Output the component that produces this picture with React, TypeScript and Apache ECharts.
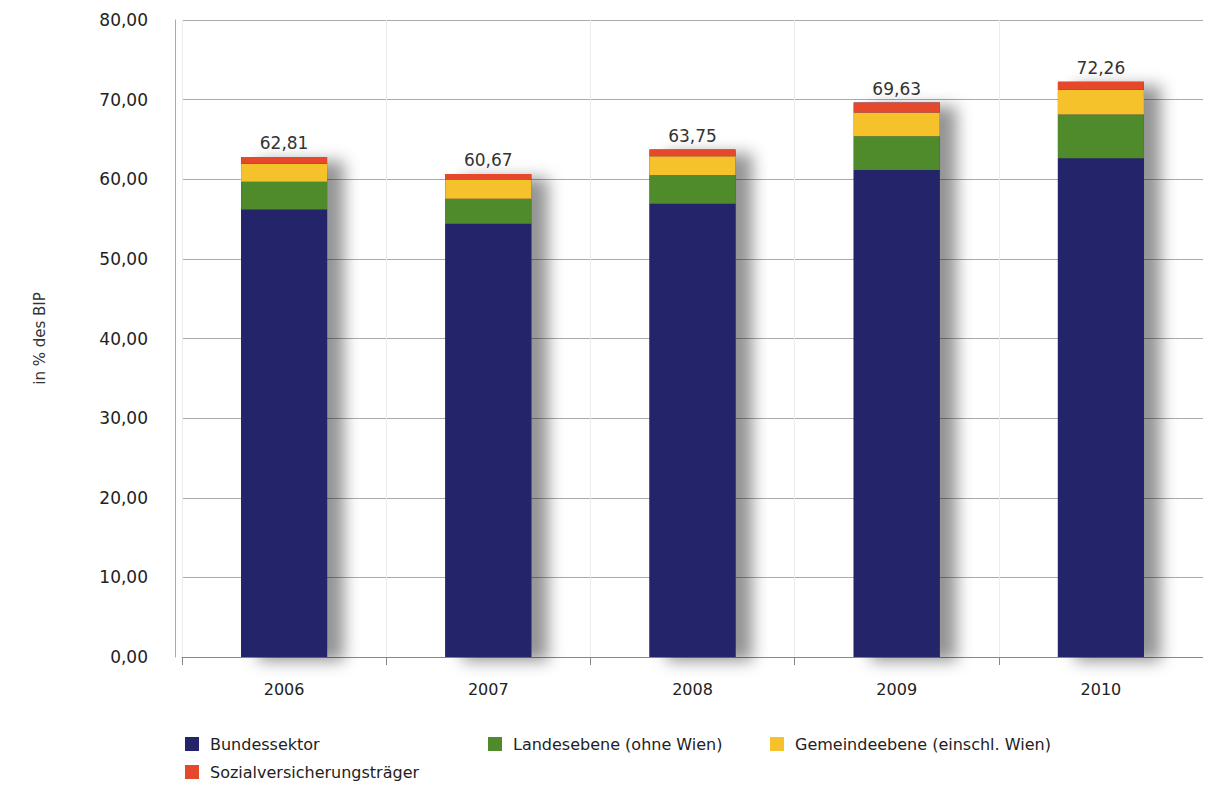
import React, { useEffect, useRef } from "react";
import * as echarts from "echarts";

const years = ["2006", "2007", "2008", "2009", "2010"];
const bundessektor = [56.2, 54.41, 56.92, 61.15, 62.65];
const landesebene = [3.5, 3.13, 3.6, 4.24, 5.48];
const gemeindeebene = [2.25, 2.38, 2.36, 3.0, 3.11];
const sozialversicherung = [0.86, 0.75, 0.87, 1.24, 1.02];
const totals = ["62,81", "60,67", "63,75", "69,63", "72,26"];

const names = [
  "Bundessektor",
  "Landesebene (ohne Wien)",
  "Gemeindeebene (einschl. Wien)",
  "Sozialversicherungsträger",
];
const colors = ["#24246a", "#4f8a2b", "#f6c22c", "#e5482b"];

const FONT = "DejaVu Sans";

export default function App() {
  const ref = useRef<HTMLDivElement>(null);
  useEffect(() => {
    if (!ref.current) return;
    const chart = echarts.init(ref.current, null, { renderer: "svg" });
    const parts = [bundessektor, landesebene, gemeindeebene, sozialversicherung];
    const sums = years.map((_, j) => parts.reduce((a, p) => a + p[j], 0));
    const shadowSeries = {
      name: "_shadow",
      type: "bar",
      data: sums,
      barWidth: 86,
      barGap: "-100%",
      z: 1,
      silent: true,
      itemStyle: {
        color: colors[0],
        shadowColor: "rgba(0,0,0,0.42)",
        shadowBlur: 16,
        shadowOffsetX: 17,
        shadowOffsetY: 4,
      },
      label: {
        show: true,
        position: "top",
        distance: 5,
        color: "#333",
        fontFamily: FONT,
        fontSize: 17,
        formatter: (p: any) => totals[p.dataIndex],
      },
    };
    const series = parts.map((d, i) => ({
      name: names[i],
      type: "bar",
      stack: "total",
      data: d,
      barWidth: 86,
      barGap: "-100%",
      z: 2,
      itemStyle: { color: colors[i] },
    }));
    const legendPos = [
      { left: 177, top: 728 },
      { left: 480, top: 728 },
      { left: 762, top: 728 },
      { left: 177, top: 756 },
    ];
    chart.setOption({
      animation: false,
      backgroundColor: "#fff",
      color: colors,
      grid: { left: 174, right: 0, top: 12, bottom: 128 },
      legend: names.map((n, i) => ({
        data: [n],
        left: legendPos[i].left,
        top: legendPos[i].top,
        padding: 0,
        itemWidth: 14,
        itemHeight: 14,
        icon: "rect",
        itemGap: 10,
        textStyle: { fontFamily: FONT, fontSize: 16, color: "#222", padding: [0, 0, 0, 6] },
      })),
      xAxis: {
        type: "category",
        data: years,
        axisLine: { lineStyle: { color: "#888" } },
        axisTick: { show: true, length: 8, lineStyle: { color: "#888" } },
        axisLabel: { fontFamily: FONT, fontSize: 16, color: "#222", margin: 24 },
        splitLine: { show: true, lineStyle: { color: "#ececec" } },
      },
      yAxis: {
        type: "value",
        min: 0,
        max: 80,
        interval: 10,
        name: "in % des BIP",
        nameLocation: "middle",
        nameGap: 128,
        nameRotate: 90,
        nameTextStyle: { fontFamily: FONT, fontSize: 15, color: "#333" },
        offset: 7,
        axisLine: { show: true, lineStyle: { color: "#aaa" } },
        axisTick: { show: false },
        axisLabel: {
          fontFamily: FONT,
          fontSize: 17,
          color: "#222",
          margin: 27,
          formatter: (v: number) => v.toFixed(2).replace(".", ","),
        },
        splitLine: { lineStyle: { color: "#aaa" } },
      },
      series: [shadowSeries, ...series],
    });
    return () => chart.dispose();
  }, []);
  return <div ref={ref} style={{ width: 1195, height: 777 }} />;
}
